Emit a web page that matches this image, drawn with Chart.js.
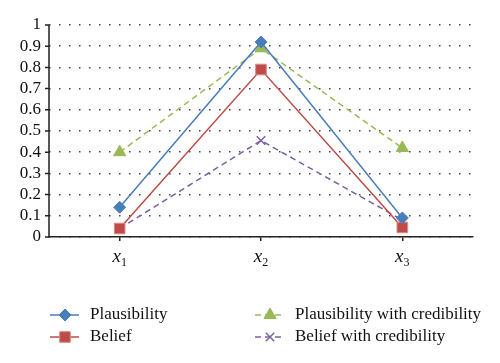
<!DOCTYPE html>
<html>
<head>
<meta charset="utf-8">
<script src="https://cdn.jsdelivr.net/npm/chart.js@4"></script>
<style>
  html, body { margin: 0; padding: 0; background: #fff; }
  #wrap { width: 500px; height: 363px; }
</style>
</head>
<body>
<div id="wrap"><canvas id="chart" width="500" height="363"></canvas></div>
<script>
  var categories = ['x1', 'x2', 'x3'];
  var plausibility = [0.14, 0.92, 0.09];
  var belief = [0.04, 0.79, 0.045];
  var plausibilityCred = [0.40, 0.89, 0.42];
  var beliefCred = [0.04, 0.455, 0.08];
  var yTicks = [0, 0.1, 0.2, 0.3, 0.4, 0.5, 0.6, 0.7, 0.8, 0.9, 1];

  var serif = "'Liberation Serif', 'DejaVu Serif', serif";

  // solid y axis line with short outward ticks (grid lines themselves are dotted)
  var yAxisPlugin = {
    id: 'solidYAxis',
    afterDraw: function (chart) {
      var ctx = chart.ctx;
      var sy = chart.scales.y;
      var x = chart.chartArea.left;
      ctx.save();
      ctx.strokeStyle = '#222';
      ctx.lineWidth = 1.5;
      ctx.beginPath();
      ctx.moveTo(x, chart.chartArea.top);
      ctx.lineTo(x, chart.chartArea.bottom);
      sy.ticks.forEach(function (t) {
        var y = sy.getPixelForValue(t.value);
        ctx.moveTo(x - 4, y);
        ctx.lineTo(x, y);
      });
      ctx.stroke();
      ctx.restore();
    }
  };

  // x labels: italic letter with a small upright subscript digit
  var xLabelPlugin = {
    id: 'subLabels',
    afterDraw: function (chart) {
      var ctx = chart.ctx;
      var sx = chart.scales.x;
      ctx.save();
      ctx.fillStyle = '#111';
      ctx.textBaseline = 'alphabetic';
      chart.data.labels.forEach(function (lab, i) {
        var x = sx.getPixelForTick(i);
        var base = lab.charAt(0), sub = lab.slice(1);
        ctx.font = 'italic 19px ' + serif;
        var w1 = ctx.measureText(base).width;
        ctx.font = '12px ' + serif;
        var w2 = ctx.measureText(sub).width;
        var left = x - (w1 + w2) / 2;
        ctx.font = 'italic 19px ' + serif;
        ctx.fillText(base, left, 262);
        ctx.font = '12px ' + serif;
        ctx.fillText(sub, left + w1, 266);
      });
      ctx.restore();
    }
  };

  // legend drawn in two columns like the original
  var legendPlugin = {
    id: 'twoColLegend',
    afterDraw: function (chart) {
      var ctx = chart.ctx;
      var spots = [
        { x: 50, y: 315 }, { x: 50, y: 337 },
        { x: 255, y: 315 }, { x: 255, y: 337 }
      ];
      chart.data.datasets.forEach(function (ds, i) {
        var p = spots[i];
        ctx.save();
        ctx.strokeStyle = ds.borderColor;
        ctx.lineWidth = 1.5;
        ctx.setLineDash(ds.borderDash || []);
        ctx.beginPath();
        ctx.moveTo(p.x, p.y);
        ctx.lineTo(p.x + 29, p.y);
        ctx.stroke();
        ctx.setLineDash([]);
        ctx.fillStyle = ds.pointBackgroundColor;
        ctx.strokeStyle = ds.pointBorderColor;
        ctx.lineWidth = ds.pointBorderWidth || 1;
        Chart.helpers.drawPoint(ctx, {
          pointStyle: ds.pointStyle,
          radius: ds.pointRadius,
          borderWidth: ds.pointBorderWidth || 1
        }, p.x + 15, p.y);
        ctx.fillStyle = '#111';
        ctx.font = '17px ' + serif;
        ctx.textBaseline = 'middle';
        ctx.fillText(ds.label, p.x + 40, p.y);
        ctx.restore();
      });
    }
  };

  function series(label, data, color, style, radius, dash, edge) {
    return {
      label: label,
      data: data,
      borderColor: color,
      backgroundColor: color,
      pointBackgroundColor: color,
      pointBorderColor: edge || color,
      pointStyle: style,
      pointRadius: radius,
      pointBorderWidth: style === 'crossRot' ? 1.5 : 1,
      borderWidth: 1.5,
      borderDash: dash,
      tension: 0,
      fill: false
    };
  }

  new Chart(document.getElementById('chart').getContext('2d'), {
    type: 'line',
    data: {
      labels: categories,
      datasets: [
        series('Plausibility', plausibility, '#4a7ebb', 'rectRot', 6, []),
        series('Belief', belief, '#be4b48', 'rect', 7.5, [], '#d98b8a'),
        series('Plausibility with credibility', plausibilityCred, '#98b954', 'triangle', 7, [6, 4]),
        series('Belief with credibility', beliefCred, '#7d60a0', 'crossRot', 6, [6, 4])
      ]
    },
    options: {
      responsive: false,
      animation: false,
      layout: { padding: { top: 25, right: 27, bottom: 96, left: 0 } },
      plugins: {
        legend: { display: false },
        tooltip: { enabled: false }
      },
      scales: {
        x: {
          offset: true,
          border: { color: '#222', width: 1.5 },
          grid: { drawOnChartArea: false, drawTicks: true, tickLength: 4, color: '#222', lineWidth: 1.5 },
          ticks: { color: 'rgba(0,0,0,0)', font: { family: serif, size: 18 }, padding: 10 },
          afterFit: function (s) { s.height = 30; }
        },
        y: {
          min: 0,
          max: 1,
          afterBuildTicks: function (s) {
            s.ticks = yTicks.map(function (v) { return { value: v }; });
          },
          border: { display: false, dash: [1.5, 8.5] },
          grid: { color: '#444', lineWidth: 1.5, drawTicks: false },
          ticks: {
            color: '#111',
            padding: 8,
            autoSkip: false,
            font: { family: serif, size: 17 },
            callback: function (v) { return String(Math.round(v * 10) / 10); }
          },
          afterFit: function (s) { s.width = 49; }
        }
      }
    },
    plugins: [yAxisPlugin, xLabelPlugin, legendPlugin]
  });
</script>
</body>
</html>
